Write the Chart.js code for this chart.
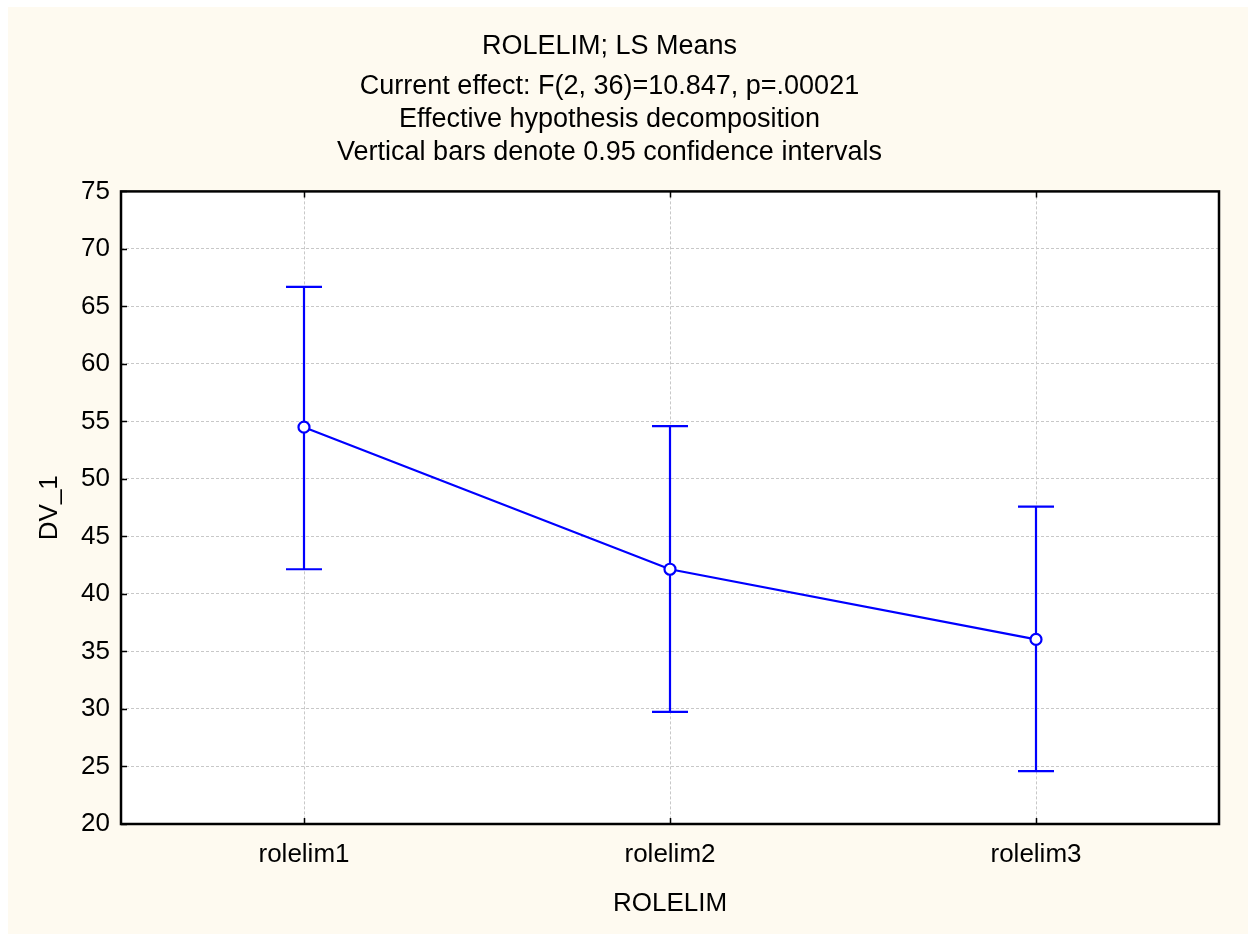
<!DOCTYPE html>
<html>
<head>
<meta charset="utf-8">
<title>ROLELIM; LS Means</title>
<script src="https://cdn.jsdelivr.net/npm/chart.js@4/dist/chart.umd.min.js"></script>
<style>
  html, body { margin: 0; padding: 0; background: #fff; }
  canvas { display: block; }
</style>
</head>
<body>
<canvas id="chart" width="1254" height="934"></canvas>
<script>
// data
const categories = ['rolelim1', 'rolelim2', 'rolelim3'];
const means = [54.5, 42.15, 36.05];
const ciLower = [42.15, 29.75, 24.6];
const ciUpper = [66.7, 54.6, 47.6];
const yMin = 20;
const yMax = 75;
const yStep = 5;

const titleText = 'ROLELIM; LS Means';
const subtitleLines = [
    'Current effect: F(2, 36)=10.847, p=.00021',
    'Effective hypothesis decomposition',
    'Vertical bars denote 0.95 confidence intervals'
];

const FONT = "'Liberation Sans', Arial, sans-serif";
const BLUE = '#0000ff';
const CREAM = '#fefaf0';

// cream background, white plot area, error bars, frame
const framePlugin = {
    id: 'frame',
    beforeDraw(chart) {
        const { ctx, chartArea: a } = chart;
        ctx.save();
        ctx.fillStyle = CREAM;
        ctx.fillRect(8, 7, 1240, 927);
        ctx.fillStyle = '#ffffff';
        ctx.fillRect(a.left, a.top, a.width, a.height);
        ctx.restore();
    },
    beforeDatasetsDraw(chart) {
        const { ctx } = chart;
        const yScale = chart.scales.y;
        const meta = chart.getDatasetMeta(0);
        ctx.save();
        ctx.strokeStyle = BLUE;
        ctx.lineWidth = 2.2;
        meta.data.forEach((pt, i) => {
            const x = pt.x;
            const yTop = yScale.getPixelForValue(ciUpper[i]);
            const yBot = yScale.getPixelForValue(ciLower[i]);
            ctx.beginPath();
            ctx.moveTo(x, yTop);
            ctx.lineTo(x, yBot);
            ctx.moveTo(x - 18, yTop);
            ctx.lineTo(x + 18, yTop);
            ctx.moveTo(x - 18, yBot);
            ctx.lineTo(x + 18, yBot);
            ctx.stroke();
        });
        ctx.restore();
    },
    afterDraw(chart) {
        const { ctx, chartArea: a } = chart;
        const xScale = chart.scales.x;
        const yScale = chart.scales.y;
        ctx.save();
        ctx.strokeStyle = '#000';
        ctx.lineWidth = 2.5;
        ctx.strokeRect(a.left, a.top, a.width, a.height);
        // small inward ticks
        ctx.lineWidth = 1.5;
        ctx.beginPath();
        xScale.ticks.forEach((t, i) => {
            const x = Math.round(xScale.getPixelForTick(i)) + 0.5;
            ctx.moveTo(x, a.top);
            ctx.lineTo(x, a.top + 6);
            ctx.moveTo(x, a.bottom);
            ctx.lineTo(x, a.bottom - 6);
        });
        yScale.ticks.forEach(t => {
            const y = Math.round(yScale.getPixelForValue(t.value)) + 0.5;
            ctx.moveTo(a.left, y);
            ctx.lineTo(a.left + 6, y);
        });
        ctx.stroke();
        ctx.restore();
    }
};

const ctx = document.getElementById('chart').getContext('2d');
const chart = new Chart(ctx, {
    type: 'line',
    data: {
        labels: categories,
        datasets: [{
            data: means,
            borderColor: BLUE,
            borderWidth: 2.2,
            tension: 0,
            pointRadius: 5.5,
            pointBackgroundColor: '#ffffff',
            pointBorderColor: BLUE,
            pointBorderWidth: 2.2
        }]
    },
    options: {
        responsive: false,
        animation: false,
        layout: { padding: { left: 0, right: 35, top: 0, bottom: 0 } },
        plugins: {
            legend: { display: false },
            tooltip: { enabled: false },
            title: {
                display: true,
                text: titleText,
                color: '#000',
                font: { family: FONT, size: 27, weight: 'normal', lineHeight: 1.2 },
                padding: { top: 30, bottom: 0 }
            },
            subtitle: {
                display: true,
                text: subtitleLines,
                color: '#000',
                font: { family: FONT, size: 27, weight: 'normal', lineHeight: 33 / 27 },
                padding: { top: 8, bottom: 22 }
            }
        },
        scales: {
            x: {
                type: 'category',
                offset: true,
                grid: { color: '#c8c8c8', lineWidth: 1, drawTicks: false },
                border: { display: false, dash: [3, 2] },
                ticks: { color: '#000', font: { family: FONT, size: 26 }, padding: 15 },
                title: {
                    display: true,
                    text: 'ROLELIM',
                    color: '#000',
                    font: { family: FONT, size: 26, lineHeight: 1.2 },
                    padding: { top: 15, bottom: 15 }
                },
                afterFit(scale) { scale.height = 110; }
            },
            y: {
                min: yMin,
                max: yMax,
                grid: { color: '#c8c8c8', lineWidth: 1, drawTicks: false },
                border: { display: false, dash: [3, 2] },
                ticks: { stepSize: yStep, color: '#000', font: { family: FONT, size: 26 }, padding: 11 },
                title: {
                    display: true,
                    text: 'DV_1',
                    color: '#000',
                    font: { family: FONT, size: 26, lineHeight: 1.2 },
                    padding: { top: 34, bottom: 0 }
                },
                afterFit(scale) { scale.width = 121; }
            }
        }
    },
    plugins: [framePlugin]
});
</script>
</body>
</html>
